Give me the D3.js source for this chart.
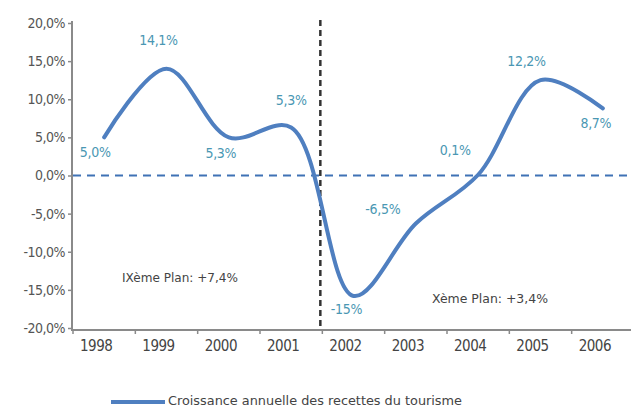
<!DOCTYPE html>
<html><head><meta charset="utf-8">
<script src="https://cdn.jsdelivr.net/npm/d3@7"></script>
<style>
body{margin:0;background:#fff;}
text{font-family:"DejaVu Sans Condensed","Liberation Sans Narrow","Liberation Sans",sans-serif;}
</style></head>
<body><svg id="c" width="631" height="409"></svg>
<script>
const years = ["1998","1999","2000","2001","2002","2003","2004","2005","2006"];
const values = [5.0, 14.0, 5.0, 6.3, -15.8, -6.3, 0.1, 12.5, 8.8];
const valueLabels = ["5,0%","14,1%","5,3%","5,3%","-15%","-6,5%","0,1%","12,2%","8,7%"];
const labelDx = [-9, -8, -8, 0, -7, -33, -23, -14, -7];
const labelDy = [20, -24, 21, -22, 18, -10, -20, -14, 20];
const yTicks = [20, 15, 10, 5, 0, -5, -10, -15, -20];
const yTickLabels = ["20,0%","15,0%","10,0%","5,0%","0,0%","-5,0%","-10,0%","-15,0%","-20,0%"];
const legendLabel = "Croissance annuelle des recettes du tourisme";
const planLabels = ["IXème Plan: +7,4%", "Xème Plan: +3,4%"];

const svg = d3.select("#c");
const x = d3.scaleBand().domain(years).range([73, 634]).padding(0);
const y = d3.scaleLinear().domain([-20, 20]).range([328, 23]);

// y axis
const yAxis = svg.append("g").attr("transform","translate(72,0)")
  .call(d3.axisLeft(y).tickValues(yTicks).tickSize(4).tickPadding(3)
    .tickFormat((d,i)=>yTickLabels[i]));
yAxis.select(".domain").attr("stroke","#8a8a8a").attr("stroke-width",2)
  .attr("d", `M0,${y(20)-2}V${y(-20)+3}`);
yAxis.selectAll(".tick line").attr("stroke","#8a8a8a").attr("stroke-width",1.5);
yAxis.selectAll(".tick text").attr("fill","#555").style("font-size","14px")
  .style("letter-spacing","-0.5px");

// x axis
const xAxis = svg.append("g").attr("transform","translate(0,330)");
xAxis.append("line").attr("x1",71).attr("x2",631).attr("y1",0).attr("y2",0)
  .attr("stroke","#8a8a8a").attr("stroke-width",2);
xAxis.selectAll("line.t").data(years).enter().append("line")
  .attr("x1",d=>x(d)).attr("x2",d=>x(d)).attr("y1",0).attr("y2",4)
  .attr("stroke","#8a8a8a").attr("stroke-width",1.5);
xAxis.selectAll("text").data(years).enter().append("text")
  .attr("x",d=>x(d)+x.bandwidth()/2-8).attr("y",21)
  .attr("text-anchor","middle").attr("fill","#444").style("font-size","15px")
  .style("letter-spacing","-0.5px")
  .text(d=>d);

// zero dashed line
svg.append("line").attr("x1",73).attr("x2",631).attr("y1",y(0)).attr("y2",y(0))
  .attr("stroke","#3f72b5").attr("stroke-width",2).attr("stroke-dasharray","8,6");

// vertical dashed separator
svg.append("line").attr("x1",x("2002")-2).attr("x2",x("2002")-2)
  .attr("y1",20).attr("y2",330)
  .attr("stroke","#333").attr("stroke-width",2.5).attr("stroke-dasharray","6,4");

// series line
const line = d3.line().x((d,i)=>x(years[i])+x.bandwidth()/2).y(d=>y(d))
  .curve(d3.curveCatmullRom.alpha(0.5));
svg.append("path").datum(values).attr("d",line).attr("fill","none")
  .attr("stroke","#4f7fc0").attr("stroke-width",4).attr("stroke-linecap","round");

// value labels
svg.selectAll("text.v").data(values).enter().append("text").attr("class","v")
  .attr("x",(d,i)=>x(years[i])+x.bandwidth()/2+labelDx[i])
  .attr("y",(d,i)=>y(d)+labelDy[i])
  .attr("text-anchor","middle").attr("fill","#4a97b3").style("font-size","14px")
  .style("letter-spacing","-0.3px")
  .text((d,i)=>valueLabels[i]);

// plan labels
svg.append("text").attr("x",122).attr("y",282).attr("fill","#444")
  .style("font-size","13px").attr("textLength",116).attr("lengthAdjust","spacingAndGlyphs")
  .text(planLabels[0]);
svg.append("text").attr("x",432).attr("y",303).attr("fill","#444")
  .style("font-size","13px").attr("textLength",116).attr("lengthAdjust","spacingAndGlyphs")
  .text(planLabels[1]);

// legend
svg.append("line").attr("x1",111).attr("x2",165).attr("y1",402).attr("y2",402)
  .attr("stroke","#4f7fc0").attr("stroke-width",4);
svg.append("text").attr("x",168).attr("y",405).attr("fill","#444")
  .style("font-size","13px").attr("textLength",294).attr("lengthAdjust","spacingAndGlyphs")
  .text(legendLabel);
</script></body></html>
